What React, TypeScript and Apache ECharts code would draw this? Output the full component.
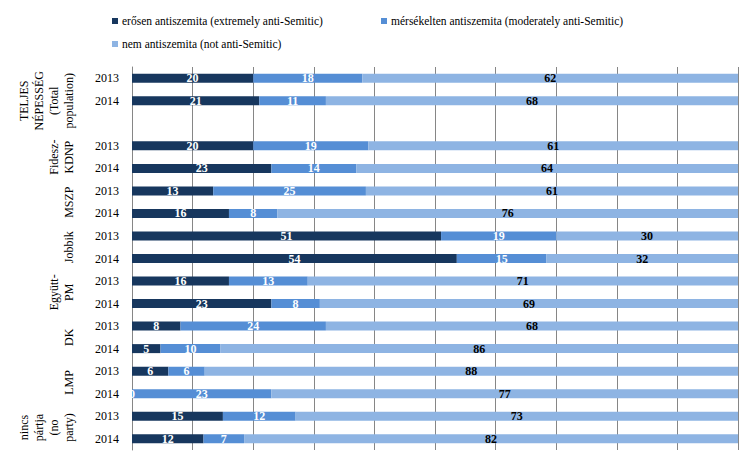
import React, { useEffect, useRef } from "react";
import * as echarts from "echarts";

const seriesNames = [
  "erősen antiszemita (extremely anti-Semitic)",
  "mérsékelten antiszemita (moderately anti-Semitic)",
  "nem antiszemita (not anti-Semitic)",
];
const yearLabels = [
  "2013", "2014", "",
  "2013", "2014",
  "2013", "2014",
  "2013", "2014",
  "2013", "2014",
  "2013", "2014",
  "2013", "2014",
  "2013", "2014",
];
const extreme = [20, 21, null, 20, 23, 13.4, 16, 51, 53.6, 16, 23, 8, 4.7, 6, 0, 15, 11.8];
const moderate = [18, 11, null, 19, 14, 25.2, 8, 19, 14.8, 13, 8, 24, 9.9, 6, 23, 12, 6.7];
const notAnti = [62, 68, null, 61, 64, 61.4, 76, 30, 31.6, 71, 69, 68, 85.5, 88, 77, 73, 81.5];
const groupLines = [
  ["TELJES", "NÉPESSÉG", "(Total", "population)"],
  ["Fidesz-", "KDNP"],
  ["MSZP"],
  ["Jobbik"],
  ["Együtt-", "PM"],
  ["DK"],
  ["LMP"],
  ["nincs", "pártja", "(no", "party)"],
];
const groupStart = [0, 3, 5, 7, 9, 11, 13, 15];
const groupEnd = [2, 4, 6, 8, 10, 12, 14, 16];

const colors = ["#17375E", "#558ED5", "#8EB4E3"];
const labelColors = ["#FFFFFF", "#FFFFFF", "#000000"];
const FONT = "Liberation Serif";

export default function App() {
  const ref = useRef<HTMLDivElement>(null);
  useEffect(() => {
    document.body.style.margin = "0";
    const chart = echarts.init(ref.current!, null, { renderer: "svg" });
    const dataSets = [extreme, moderate, notAnti];
    const legendPos = [
      { left: 112, top: 15 },
      { left: 381, top: 15 },
      { left: 112, top: 38 },
    ];
    chart.setOption({
      animation: false,
      backgroundColor: "#ffffff",
      color: colors,
      textStyle: { fontFamily: FONT },
      legend: seriesNames.map((n, i) => ({
        data: [n],
        left: legendPos[i].left,
        top: legendPos[i].top,
        icon: "rect",
        itemWidth: 6,
        itemHeight: 6,
        padding: 0,
        selectedMode: false,
        textStyle: { fontFamily: FONT, fontSize: 11.5, color: "#000", padding: [0, 0, 0, -1] },
      })),
      grid: { left: 132, right: 16, top: 67, bottom: 15 },
      xAxis: {
        type: "value",
        min: 0,
        max: 100,
        interval: 10,
        axisLabel: { show: false },
        axisLine: { show: false },
        axisTick: { show: false },
        splitLine: { show: true, lineStyle: { color: "#868686", width: 1 } },
      },
      yAxis: {
        type: "category",
        inverse: true,
        data: yearLabels,
        axisLine: { show: true, lineStyle: { color: "#868686" } },
        axisTick: { show: false },
        axisLabel: { fontFamily: FONT, fontSize: 12, color: "#000", margin: 13 },
      },
      series: dataSets.map((d, i) => ({
        type: "bar",
        name: seriesNames[i],
        stack: "total",
        barWidth: 9,
        data: d,
        itemStyle: { color: colors[i] },
        label: {
          show: true,
          position: "inside",
          color: labelColors[i],
          fontFamily: FONT,
          fontSize: 12,
          fontWeight: "bold",
          formatter: (p: any) =>
            p.value === null || p.value === undefined ? "" : String(Math.round(p.value)),
        },
      })),
    });

    const graphics = groupLines.map((lines, g) => {
      const y0 = chart.convertToPixel({ yAxisIndex: 0 }, groupStart[g]) as number;
      const y1 = chart.convertToPixel({ yAxisIndex: 0 }, groupEnd[g]) as number;
      return {
        type: "text",
        x: 76,
        y: (y0 + y1) / 2,
        rotation: Math.PI / 2,
        style: {
          text: lines.join("\n"),
          fontFamily: FONT,
          fontSize: 12,
          lineHeight: 15,
          fill: "#000",
          align: "center",
          verticalAlign: "bottom",
        },
      };
    });
    chart.setOption({ graphic: graphics });

    return () => chart.dispose();
  }, []);
  return <div ref={ref} style={{ width: 754, height: 465 }} />;
}
